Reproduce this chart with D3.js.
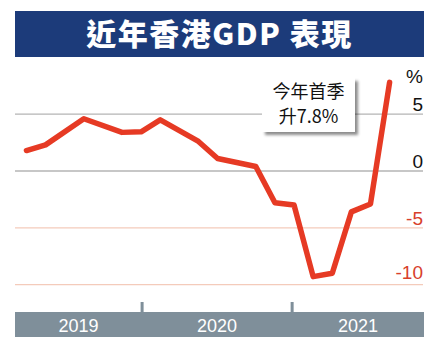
<!DOCTYPE html>
<html><head><meta charset="utf-8">
<script src="https://cdn.jsdelivr.net/npm/d3@7"></script>
<style>
html,body{margin:0;padding:0;background:#fff;}
svg{display:block;}
</style></head>
<body>
<svg id="chart" width="433" height="346"></svg>
<script>
// ---- data ----
const title = "近年香港GDP 表現";
const periods = [0, 1, 3, 5, 6, 7, 9, 10, 12, 13, 14, 15, 16, 17, 18, 19];
const growth = [1.8, 2.3, 4.6, 3.4, 3.45, 4.5, 2.6, 1.1, 0.4, -2.8, -3.0, -9.3, -9.0, -3.6, -2.9, 7.8];
const yTicks = [5, 0, -5, -10];
const years = ["2019", "2020", "2021"];
const yearBounds = [-0.6, 6.05, 13.9, 20.8];
const note = ["今年首季", "升7.8%"];

const svg = d3.select("#chart");
const left = 15, right = 424;
const x = d3.scaleLinear().domain([yearBounds[0], yearBounds[3]]).range([left, right]);
const y = d3.scaleLinear().domain([0, 5]).range([171, 114.2]);

// title
svg.append("rect").attr("x", left).attr("y", 11).attr("width", right - left).attr("height", 46).attr("fill", "#1c3b7a");
svg.append("text").attr("x", (left + right) / 2).attr("y", 45).attr("text-anchor", "middle")
  .attr("fill", "#fff").attr("font-family", "'Noto Sans CJK TC','Noto Sans CJK SC',sans-serif")
  .attr("font-weight", 900).attr("font-size", 30).attr("letter-spacing", 1.5).text(title);

// gridlines
const grid = svg.append("g");
grid.selectAll("line").data(yTicks).join("line")
  .attr("x1", left).attr("x2", right - 1)
  .attr("y1", d => y(d)).attr("y2", d => y(d))
  .attr("stroke", d => d < 0 ? "#f4cbbb" : "#b4b4b4").attr("stroke-width", 1.3);
grid.selectAll("text").data(yTicks).join("text")
  .attr("x", right - 1).attr("y", d => y(d) - (d < -5 ? 6 : 3)).attr("text-anchor", "end")
  .attr("fill", d => d < 0 ? "#d8402c" : "#111")
  .attr("font-family", "'Liberation Sans',Arial,sans-serif").attr("font-size", 19)
  .text(d => d);
svg.append("text").attr("x", right - 1).attr("y", y(5) - 31).attr("text-anchor", "end")
  .attr("fill", "#111").attr("font-family", "'Liberation Sans',Arial,sans-serif").attr("font-size", 19).text("%");

// annotation box
const bx = 262, by = 78, bw = 93, bh = 54;
const defs = svg.append("defs");
const f = defs.append("filter").attr("id", "sh").attr("x", "-20%").attr("y", "-20%").attr("width", "150%").attr("height", "150%");
f.append("feDropShadow").attr("dx", 3).attr("dy", 3).attr("stdDeviation", 1.8).attr("flood-color", "#000").attr("flood-opacity", 0.45);
svg.append("rect").attr("x", bx).attr("y", by).attr("width", bw).attr("height", bh).attr("fill", "#fff").attr("filter", "url(#sh)");
svg.append("g").selectAll("text").data(note).join("text")
  .attr("x", bx + bw / 2).attr("y", (d, i) => by + 19.5 + i * 25).attr("text-anchor", "middle")
  .attr("fill", "#111").attr("font-family", "'Noto Sans CJK TC','Noto Sans CJK SC',sans-serif")
  .attr("font-size", 18).text(d => d);

// line
const line = d3.line().x((d, i) => x(periods[i])).y(d => y(d));
svg.append("path").datum(growth).attr("d", line).attr("fill", "none")
  .attr("stroke", "#e63a24").attr("stroke-width", 5.5).attr("stroke-linejoin", "round").attr("stroke-linecap", "round");

// x axis bar
const barTop = 312, barH = 25;
svg.append("rect").attr("x", left).attr("y", barTop).attr("width", right - left).attr("height", barH).attr("fill", "#7f8f9a");
svg.append("g").selectAll("rect").data(yearBounds.slice(1, 3)).join("rect")
  .attr("x", d => x(d) - 1.5).attr("y", barTop - 10).attr("width", 3).attr("height", 10).attr("fill", "#7f8f9a");
svg.append("g").selectAll("text").data(years).join("text")
  .attr("x", (d, i) => (x(yearBounds[i]) + x(yearBounds[i + 1])) / 2)
  .attr("y", barTop + 20).attr("text-anchor", "middle").attr("fill", "#fff")
  .attr("font-family", "'Liberation Sans',Arial,sans-serif").attr("font-size", 18).text(d => d);
</script>
</body></html>
